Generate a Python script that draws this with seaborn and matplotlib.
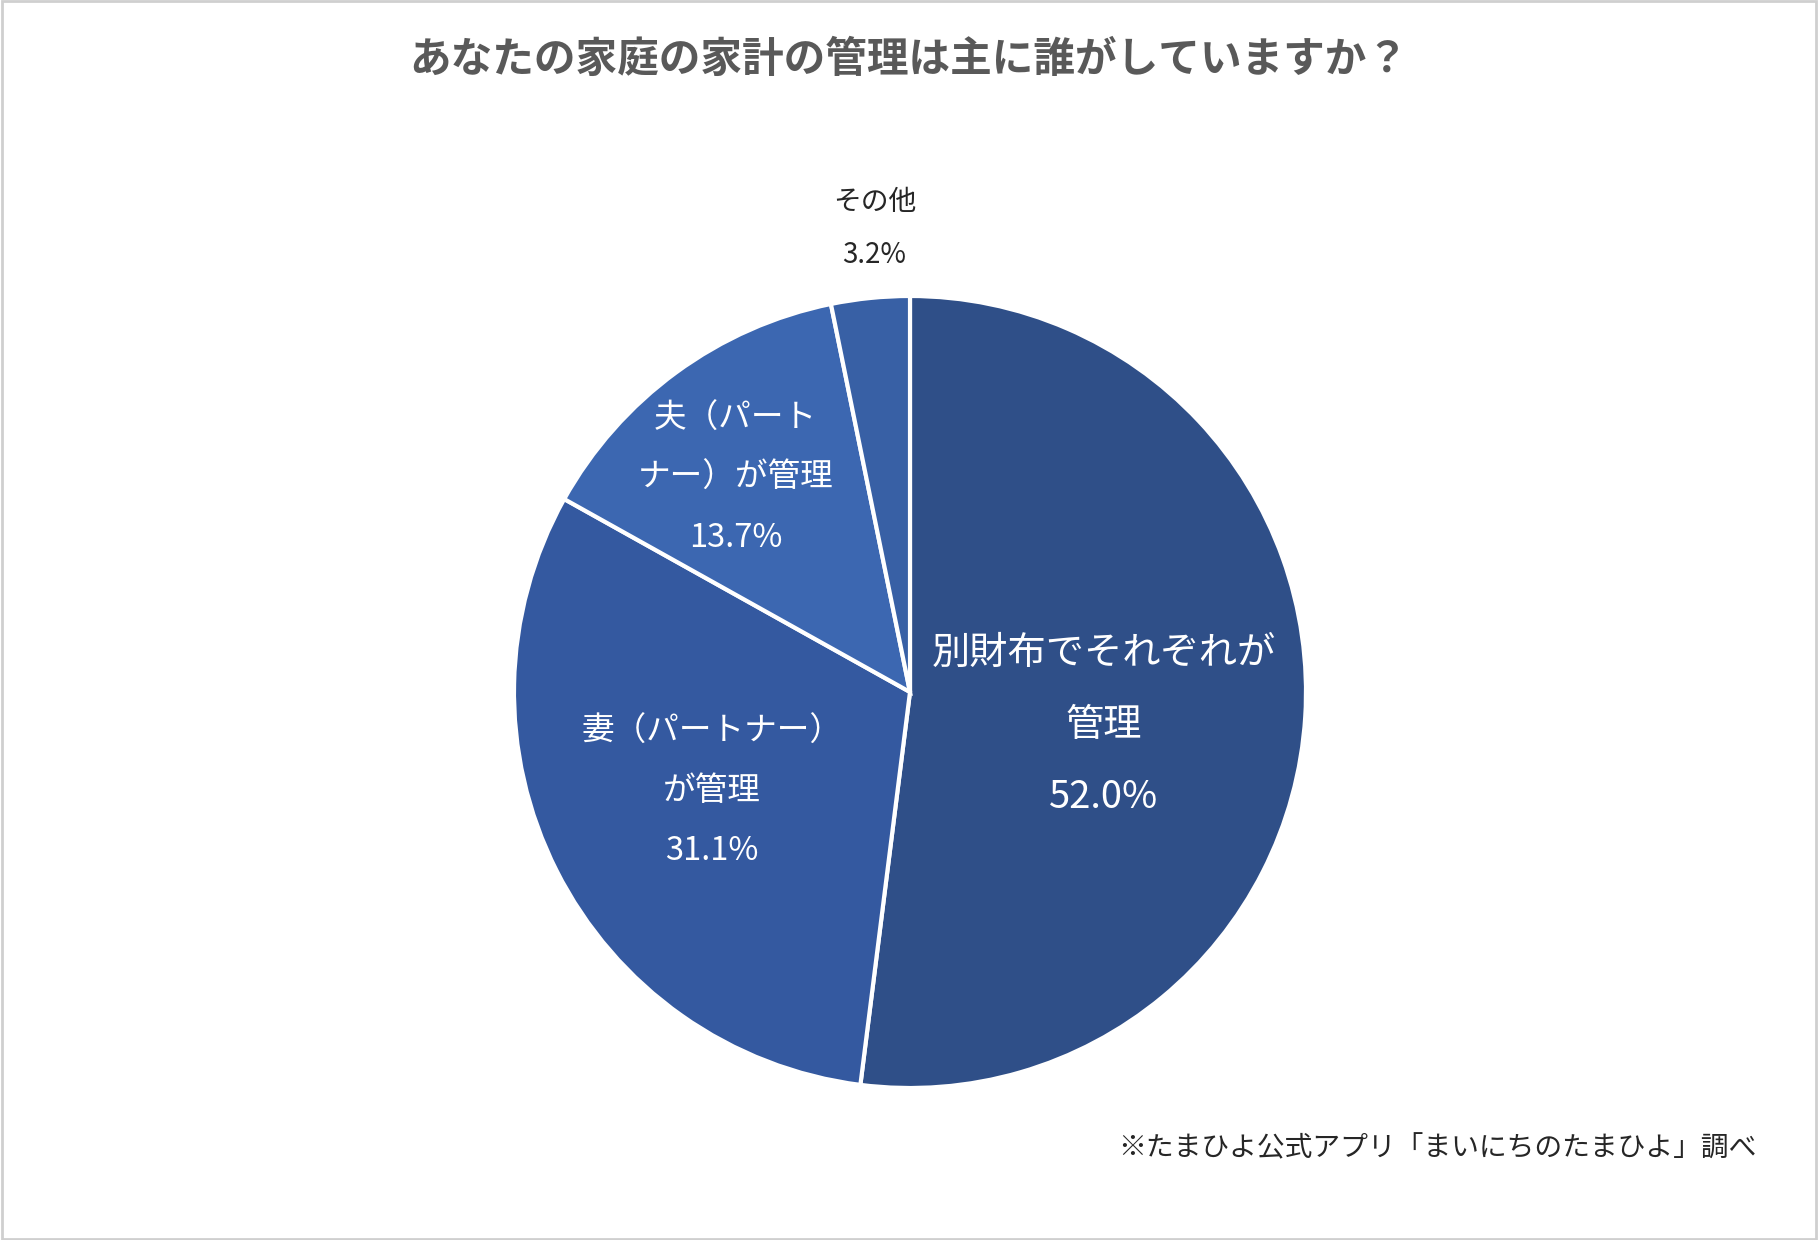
import matplotlib
matplotlib.use("Agg")
import matplotlib.pyplot as plt
import seaborn as sns
import numpy as np
from matplotlib.patches import Rectangle

sns.set_theme(style="white")
plt.rcParams['font.family'] = ['Noto Sans CJK JP', 'DejaVu Sans']

title = "あなたの家庭の家計の管理は主に誰がしていますか？"
categories = ["別財布でそれぞれが\n管理", "妻（パートナー）\nが管理", "夫（パート\nナー）が管理", "その他"]
values = [52.0, 31.1, 13.7, 3.2]
colors = ["#2F4F88", "#3459A0", "#3C67B1", "#3860A5"]
note = "※たまひよ公式アプリ「まいにちのたまひよ」調べ"

W, H = 1818, 1240
fig = plt.figure(figsize=(W / 100, H / 100), dpi=100)
ax = fig.add_axes([0, 0, 1, 1])
ax.set_xlim(0, W)
ax.set_ylim(0, H)
ax.axis("off")

cx, cy, R = 910, H - 692, 396
wedges, _ = ax.pie(values, colors=colors, startangle=90, counterclock=False,
                   center=(cx, cy), radius=R,
                   wedgeprops=dict(edgecolor="white", linewidth=3))
ax.set_xlim(0, W)
ax.set_ylim(0, H)

# label placement (offsets in radius units from centre, per slice)
offsets = [(0.49, -0.085), (-0.50, -0.25), (-0.44, 0.54), (-0.09, 1.17)]
sizes = [27.5, 23.5, 23.5, 20]
tcolors = ["white", "white", "white", "#262626"]
spacing = [2.10, 2.10, 2.10, 1.99]
for cat, v, (dx, dy), fs, tc, ls in zip(categories, values, offsets, sizes, tcolors, spacing):
    ax.text(cx + dx * R, cy + dy * R, f"{cat}\n{v:.1f}%", ha="center", va="center",
            fontsize=fs, color=tc, linespacing=ls)

fig.text(0.5, 1 - 60 / H, title, ha="center", va="center", fontsize=30,
         fontweight="bold", color="#595959")
fig.text(1757 / W, 1 - 1148 / H, note, ha="right", va="center", fontsize=20,
         color="#262626")

fig.patches.append(Rectangle((0.001, 0.001), 0.998, 0.998, transform=fig.transFigure,
                             fill=False, edgecolor="#CFCFCF", linewidth=2))

fig.savefig("out.png", dpi=100, facecolor="white")
